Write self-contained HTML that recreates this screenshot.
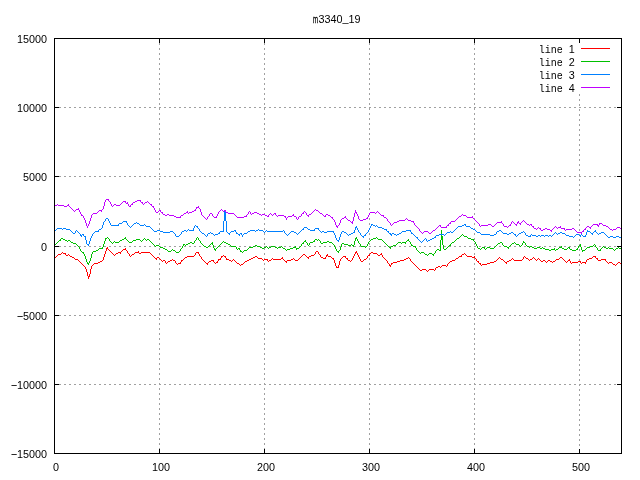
<!DOCTYPE html>
<html><head><meta charset="utf-8"><title>m3340_19</title>
<style>
html,body{margin:0;padding:0;background:#fff}
body{width:640px;height:480px;position:relative;overflow:hidden;font-family:"Liberation Sans",sans-serif}
.t{position:absolute;font-family:"Liberation Sans",sans-serif;font-size:10.8px;line-height:20px;height:20px;color:#000;white-space:pre;will-change:transform}
.mo{font-family:"Liberation Mono",monospace;font-size:10px}
.mm{display:inline-block;width:5.5px;transform-origin:0 50%;transform:scaleX(0.56);-webkit-text-stroke:0.3px #000}
.sh{display:inline-block;transform:translateX(-0.35px)}
.us{display:inline-block;transform:translateY(-1px)}
.mi{display:inline-block;width:6px;text-align:center;transform:translateY(-1px) scaleX(2.0)}
</style></head>
<body>
<svg width="640" height="480" viewBox="0 0 640 480" shape-rendering="crispEdges" style="position:absolute;left:0;top:0">
<g stroke="#a0a0a0" stroke-width="1" stroke-dasharray="2 3"><line x1="159.5" y1="38" x2="159.5" y2="454"/><line x1="264.5" y1="38" x2="264.5" y2="454"/><line x1="369.5" y1="38" x2="369.5" y2="454"/><line x1="474.5" y1="38" x2="474.5" y2="454"/><line x1="579.5" y1="94" x2="579.5" y2="454"/><line x1="54" y1="107.5" x2="622" y2="107.5"/><line x1="54" y1="176.5" x2="622" y2="176.5"/><line x1="54" y1="246.5" x2="622" y2="246.5"/><line x1="54" y1="315.5" x2="622" y2="315.5"/><line x1="54" y1="384.5" x2="622" y2="384.5"/></g>
<path fill="#ff0000" d="M54 257h2v1h-2zM56 256h1v1h-1zM57 255h1v1h-1zM58 254h3v1h-3zM61 253h1v1h-1zM62 252h1v1h-1zM63 253h2v1h-2zM65 253h1v2h-1zM66 255h2v1h-2zM68 254h1v1h-1zM69 255h1v1h-1zM70 256h2v1h-2zM72 257h2v1h-2zM74 258h1v1h-1zM75 259h3v1h-3zM78 260h1v1h-1zM79 261h1v1h-1zM80 262h1v1h-1zM81 263h1v1h-1zM82 264h1v1h-1zM83 265h1v1h-1zM84 266h1v1h-1zM85 267h1v2h-1zM86 269h1v3h-1zM87 272h1v4h-1zM88 276h1v3h-1zM89 274h1v3h-1zM90 269h1v5h-1zM91 266h1v3h-1zM92 265h1v1h-1zM93 264h1v1h-1zM94 263h4v1h-4zM98 262h2v1h-2zM100 261h2v1h-2zM102 260h1v1h-1zM103 257h1v3h-1zM104 254h1v3h-1zM105 251h1v3h-1zM106 248h1v3h-1zM107 247h1v2h-1zM108 249h1v1h-1zM109 250h1v1h-1zM110 251h1v1h-1zM111 252h1v1h-1zM112 253h1v1h-1zM113 254h1v1h-1zM114 255h1v1h-1zM115 254h1v1h-1zM116 253h2v1h-2zM118 252h2v1h-2zM120 252h1v2h-1zM121 251h1v1h-1zM122 250h1v1h-1zM123 249h2v1h-2zM125 248h1v2h-1zM126 250h1v1h-1zM127 251h1v2h-1zM128 253h1v1h-1zM129 254h1v2h-1zM130 256h1v1h-1zM131 255h1v1h-1zM132 254h2v1h-2zM134 253h1v1h-1zM135 252h3v1h-3zM138 251h1v2h-1zM139 253h2v1h-2zM141 252h9v1h-9zM150 253h1v1h-1zM151 254h1v1h-1zM152 255h1v1h-1zM153 256h1v1h-1zM154 257h1v1h-1zM155 258h1v1h-1zM156 258h1v2h-1zM157 257h2v1h-2zM159 258h1v1h-1zM160 259h1v1h-1zM161 260h1v1h-1zM162 261h1v1h-1zM163 260h2v1h-2zM165 261h1v2h-1zM166 263h1v1h-1zM167 262h1v1h-1zM168 261h2v1h-2zM170 260h2v1h-2zM172 259h1v1h-1zM173 260h2v1h-2zM175 261h1v2h-1zM176 263h1v1h-1zM177 264h1v1h-1zM178 263h2v1h-2zM180 262h1v2h-1zM181 260h1v2h-1zM182 260h1v1h-1zM183 259h1v1h-1zM184 258h1v1h-1zM185 257h2v1h-2zM187 256h7v1h-7zM194 255h1v1h-1zM195 253h1v2h-1zM196 252h2v1h-2zM198 252h1v2h-1zM199 254h1v2h-1zM200 256h1v1h-1zM201 257h1v2h-1zM202 259h1v1h-1zM203 260h1v1h-1zM204 261h1v1h-1zM205 262h1v1h-1zM206 263h1v1h-1zM207 263h1v2h-1zM208 262h1v1h-1zM209 261h2v1h-2zM211 260h2v1h-2zM213 260h1v2h-1zM214 262h1v1h-1zM215 263h1v1h-1zM216 262h1v1h-1zM217 261h1v2h-1zM218 259h1v2h-1zM219 259h1v1h-1zM220 258h1v2h-1zM221 256h1v2h-1zM222 256h1v1h-1zM223 255h1v1h-1zM224 256h1v1h-1zM225 256h1v2h-1zM226 258h1v2h-1zM227 259h2v1h-2zM229 260h2v1h-2zM231 261h1v1h-1zM232 260h1v1h-1zM233 259h1v1h-1zM234 260h1v1h-1zM235 261h1v1h-1zM236 262h1v1h-1zM237 263h2v1h-2zM239 264h1v1h-1zM240 265h1v1h-1zM241 264h2v1h-2zM243 263h1v1h-1zM244 262h1v1h-1zM245 261h2v1h-2zM247 260h2v1h-2zM249 259h2v1h-2zM251 258h2v1h-2zM253 257h2v1h-2zM255 256h2v1h-2zM257 257h1v1h-1zM258 258h4v1h-4zM262 259h1v1h-1zM263 260h1v1h-1zM264 259h3v1h-3zM267 259h1v2h-1zM268 261h1v1h-1zM269 260h2v1h-2zM271 259h1v1h-1zM272 258h1v1h-1zM273 259h8v1h-8zM281 258h1v1h-1zM282 257h1v2h-1zM283 259h1v1h-1zM284 260h1v1h-1zM285 261h1v1h-1zM286 261h1v2h-1zM287 260h4v1h-4zM291 259h2v1h-2zM293 258h1v1h-1zM294 259h1v1h-1zM295 260h3v1h-3zM298 259h1v1h-1zM299 258h1v1h-1zM300 257h1v1h-1zM301 256h1v1h-1zM302 255h1v1h-1zM303 254h2v1h-2zM305 255h1v1h-1zM306 256h1v1h-1zM307 257h1v1h-1zM308 257h1v2h-1zM309 256h2v1h-2zM311 255h3v1h-3zM314 254h1v1h-1zM315 252h1v2h-1zM316 251h2v1h-2zM318 252h1v2h-1zM319 254h1v1h-1zM320 255h1v2h-1zM321 257h2v1h-2zM323 258h2v1h-2zM325 257h1v2h-1zM326 255h1v2h-1zM327 254h1v2h-1zM328 256h3v1h-3zM331 257h1v1h-1zM332 258h1v1h-1zM333 258h1v2h-1zM334 260h1v3h-1zM335 263h1v3h-1zM336 266h1v2h-1zM337 267h1v1h-1zM338 265h1v3h-1zM339 261h1v4h-1zM340 259h1v2h-1zM341 258h1v1h-1zM342 257h1v1h-1zM343 256h2v1h-2zM345 256h1v2h-1zM346 258h1v1h-1zM347 258h1v2h-1zM348 260h2v1h-2zM350 261h1v1h-1zM351 260h1v1h-1zM352 258h1v2h-1zM353 256h1v2h-1zM354 254h1v2h-1zM355 252h1v2h-1zM356 251h1v2h-1zM357 253h1v2h-1zM358 255h1v2h-1zM359 257h1v2h-1zM360 259h1v2h-1zM361 261h2v1h-2zM363 260h1v1h-1zM364 259h2v1h-2zM366 258h1v1h-1zM367 256h1v2h-1zM368 255h1v1h-1zM369 254h1v2h-1zM370 253h1v1h-1zM371 252h2v1h-2zM373 253h4v1h-4zM377 254h1v1h-1zM378 255h2v1h-2zM380 254h1v1h-1zM381 253h1v2h-1zM382 255h1v2h-1zM383 257h1v1h-1zM384 258h1v1h-1zM385 259h1v1h-1zM386 260h1v1h-1zM387 261h1v2h-1zM388 263h1v1h-1zM389 264h1v2h-1zM390 265h1v2h-1zM391 263h1v2h-1zM392 263h1v1h-1zM393 262h4v1h-4zM397 261h3v1h-3zM400 260h4v1h-4zM404 259h2v1h-2zM406 258h2v1h-2zM408 257h1v1h-1zM409 258h1v1h-1zM410 259h1v2h-1zM411 261h1v1h-1zM412 262h1v1h-1zM413 263h1v1h-1zM414 264h1v1h-1zM415 265h1v1h-1zM416 266h1v1h-1zM417 267h1v1h-1zM418 268h1v1h-1zM419 269h1v1h-1zM420 270h2v1h-2zM422 269h4v1h-4zM426 270h1v1h-1zM427 271h1v1h-1zM428 270h1v1h-1zM429 269h5v1h-5zM434 270h1v1h-1zM435 268h1v2h-1zM436 267h2v1h-2zM438 266h2v1h-2zM440 267h1v1h-1zM441 266h1v1h-1zM442 265h4v1h-4zM446 266h1v1h-1zM447 264h1v2h-1zM448 263h1v1h-1zM449 262h1v1h-1zM450 261h2v1h-2zM452 260h3v1h-3zM455 259h1v1h-1zM456 258h2v1h-2zM458 257h1v1h-1zM459 256h2v1h-2zM461 255h1v2h-1zM462 254h2v1h-2zM464 253h1v1h-1zM465 254h1v1h-1zM466 255h1v1h-1zM467 256h5v1h-5zM472 257h2v1h-2zM474 256h1v2h-1zM475 258h1v1h-1zM476 259h1v2h-1zM477 261h1v1h-1zM478 261h1v2h-1zM479 263h1v1h-1zM480 263h1v2h-1zM481 265h1v1h-1zM482 264h5v1h-5zM487 263h3v1h-3zM490 262h4v1h-4zM494 261h2v1h-2zM496 260h1v1h-1zM497 259h1v1h-1zM498 258h1v1h-1zM499 257h1v1h-1zM500 258h1v1h-1zM501 259h2v1h-2zM503 260h1v1h-1zM504 261h1v1h-1zM505 262h1v1h-1zM506 262h1v2h-1zM507 261h2v1h-2zM509 260h2v1h-2zM511 259h1v1h-1zM512 258h1v1h-1zM513 259h1v1h-1zM514 260h8v1h-8zM522 259h1v1h-1zM523 257h1v2h-1zM524 256h1v1h-1zM525 257h1v1h-1zM526 258h2v1h-2zM528 259h1v1h-1zM529 260h1v1h-1zM530 259h2v1h-2zM532 258h1v1h-1zM533 257h1v1h-1zM534 258h1v1h-1zM535 259h1v1h-1zM536 260h1v1h-1zM537 259h1v1h-1zM538 258h1v1h-1zM539 259h1v1h-1zM540 260h1v1h-1zM541 261h2v1h-2zM543 260h2v1h-2zM545 261h1v1h-1zM546 262h1v1h-1zM547 261h1v1h-1zM548 260h2v1h-2zM550 261h2v1h-2zM552 262h1v1h-1zM553 261h2v1h-2zM555 260h1v1h-1zM556 259h3v1h-3zM559 258h1v1h-1zM560 257h2v1h-2zM562 258h1v1h-1zM563 259h1v1h-1zM564 260h1v1h-1zM565 261h1v1h-1zM566 262h1v1h-1zM567 261h1v1h-1zM568 260h1v1h-1zM569 259h1v2h-1zM570 261h1v2h-1zM571 263h1v1h-1zM572 262h6v1h-6zM578 261h2v1h-2zM580 261h1v2h-1zM581 263h1v1h-1zM582 262h3v1h-3zM585 262h1v2h-1zM586 260h1v2h-1zM587 259h2v1h-2zM589 258h3v1h-3zM592 257h1v1h-1zM593 256h2v1h-2zM595 256h1v2h-1zM596 258h1v1h-1zM597 258h1v2h-1zM598 260h3v1h-3zM601 259h4v1h-4zM605 259h1v2h-1zM606 261h1v1h-1zM607 262h1v1h-1zM608 263h1v1h-1zM609 262h3v1h-3zM612 263h1v1h-1zM613 264h2v1h-2zM615 265h1v1h-1zM616 264h1v1h-1zM617 263h1v1h-1zM618 262h2v1h-2zM620 263h1v1h-1zM621 264h1v1h-1z"/>
<path fill="#00c000" d="M54 244h2v1h-2zM56 243h1v1h-1zM57 242h1v1h-1zM58 241h1v1h-1zM59 240h1v1h-1zM60 239h1v2h-1zM61 238h2v1h-2zM63 239h2v1h-2zM65 240h2v1h-2zM67 241h1v1h-1zM68 240h2v1h-2zM70 241h1v1h-1zM71 242h2v1h-2zM73 243h3v1h-3zM76 244h1v1h-1zM77 245h1v1h-1zM78 246h1v1h-1zM79 247h1v2h-1zM80 249h1v2h-1zM81 251h1v1h-1zM82 252h1v1h-1zM83 252h1v2h-1zM84 254h1v2h-1zM85 256h1v3h-1zM86 259h1v3h-1zM87 262h1v2h-1zM88 263h1v2h-1zM89 261h1v2h-1zM90 258h1v3h-1zM91 254h1v4h-1zM92 252h1v2h-1zM93 251h3v1h-3zM96 250h2v1h-2zM98 249h1v1h-1zM99 248h3v1h-3zM102 247h1v2h-1zM103 244h1v3h-1zM104 241h1v3h-1zM105 238h1v3h-1zM106 238h1v1h-1zM107 237h1v1h-1zM108 238h1v1h-1zM109 239h1v2h-1zM110 241h1v1h-1zM111 242h1v1h-1zM112 243h1v1h-1zM113 242h1v1h-1zM114 241h1v1h-1zM115 242h4v1h-4zM119 241h1v1h-1zM120 240h2v1h-2zM122 239h2v1h-2zM124 238h1v1h-1zM125 237h1v2h-1zM126 239h1v1h-1zM127 240h1v1h-1zM128 241h1v1h-1zM129 242h3v1h-3zM132 241h1v1h-1zM133 240h3v1h-3zM136 239h4v1h-4zM140 240h1v1h-1zM141 241h1v1h-1zM142 240h1v1h-1zM143 239h1v1h-1zM144 238h1v1h-1zM145 239h1v1h-1zM146 240h1v1h-1zM147 239h2v1h-2zM149 240h1v1h-1zM150 241h1v1h-1zM151 242h1v1h-1zM152 243h1v1h-1zM153 244h1v1h-1zM154 245h1v1h-1zM155 246h1v1h-1zM156 245h3v1h-3zM159 246h1v1h-1zM160 247h3v1h-3zM163 248h2v1h-2zM165 249h2v1h-2zM167 250h1v1h-1zM168 251h3v1h-3zM171 250h1v1h-1zM172 249h1v1h-1zM173 250h2v1h-2zM175 251h1v1h-1zM176 252h3v1h-3zM179 251h1v1h-1zM180 249h1v2h-1zM181 248h1v1h-1zM182 246h1v2h-1zM183 244h1v2h-1zM184 244h1v1h-1zM185 245h1v1h-1zM186 244h2v1h-2zM188 243h2v1h-2zM190 242h2v1h-2zM192 243h2v1h-2zM194 241h1v2h-1zM195 240h1v1h-1zM196 238h1v2h-1zM197 237h1v1h-1zM198 238h1v2h-1zM199 240h1v1h-1zM200 241h1v2h-1zM201 243h1v1h-1zM202 244h1v1h-1zM203 245h1v1h-1zM204 246h2v1h-2zM206 247h2v1h-2zM208 246h1v1h-1zM209 245h1v1h-1zM210 244h1v1h-1zM211 243h1v1h-1zM212 242h1v3h-1zM213 245h1v3h-1zM214 248h1v2h-1zM215 249h1v2h-1zM216 248h1v1h-1zM217 247h1v1h-1zM218 246h1v1h-1zM219 245h1v1h-1zM220 244h1v1h-1zM221 243h1v1h-1zM222 242h1v1h-1zM223 241h1v1h-1zM224 242h2v1h-2zM226 243h2v1h-2zM228 244h2v1h-2zM230 245h1v1h-1zM231 246h5v1h-5zM236 247h1v2h-1zM237 249h1v1h-1zM238 248h1v1h-1zM239 248h1v2h-1zM240 250h1v2h-1zM241 251h1v1h-1zM242 252h1v1h-1zM243 251h1v1h-1zM244 250h3v1h-3zM247 249h1v1h-1zM248 248h1v1h-1zM249 247h4v1h-4zM253 246h2v1h-2zM255 245h2v1h-2zM257 246h3v1h-3zM260 247h2v1h-2zM262 248h2v1h-2zM264 247h2v1h-2zM266 246h1v1h-1zM267 247h1v1h-1zM268 248h1v1h-1zM269 247h2v1h-2zM271 246h4v1h-4zM275 247h2v1h-2zM277 248h1v1h-1zM278 247h3v1h-3zM281 246h1v1h-1zM282 247h1v1h-1zM283 248h2v1h-2zM285 249h1v1h-1zM286 250h1v1h-1zM287 249h3v1h-3zM290 248h3v1h-3zM293 247h2v1h-2zM295 246h1v2h-1zM296 248h1v2h-1zM297 248h2v1h-2zM299 247h1v1h-1zM300 246h1v1h-1zM301 244h1v2h-1zM302 243h1v1h-1zM303 242h1v2h-1zM304 241h1v1h-1zM305 240h1v2h-1zM306 242h1v1h-1zM307 243h1v2h-1zM308 245h1v1h-1zM309 243h1v2h-1zM310 242h3v1h-3zM313 241h1v1h-1zM314 240h1v2h-1zM315 239h2v1h-2zM317 240h1v1h-1zM318 239h1v1h-1zM319 240h1v1h-1zM320 241h1v2h-1zM321 243h2v1h-2zM323 242h4v1h-4zM327 241h2v1h-2zM329 242h3v1h-3zM332 243h1v1h-1zM333 244h1v1h-1zM334 245h1v2h-1zM335 247h1v2h-1zM336 249h1v2h-1zM337 251h1v1h-1zM338 251h1v2h-1zM339 250h1v1h-1zM340 247h1v3h-1zM341 244h1v3h-1zM342 243h2v1h-2zM344 244h4v1h-4zM348 245h3v1h-3zM351 244h1v1h-1zM352 245h1v1h-1zM353 245h1v2h-1zM354 241h1v4h-1zM355 238h1v3h-1zM356 237h1v2h-1zM357 239h1v2h-1zM358 241h1v2h-1zM359 243h1v1h-1zM360 244h1v2h-1zM361 246h4v1h-4zM365 247h1v1h-1zM366 246h1v1h-1zM367 244h1v2h-1zM368 242h1v2h-1zM369 241h1v1h-1zM370 240h1v1h-1zM371 239h2v1h-2zM373 238h3v1h-3zM376 237h1v1h-1zM377 238h1v1h-1zM378 239h4v1h-4zM382 240h1v1h-1zM383 241h1v1h-1zM384 242h1v1h-1zM385 243h1v1h-1zM386 244h1v1h-1zM387 245h1v1h-1zM388 246h1v1h-1zM389 247h1v1h-1zM390 247h1v2h-1zM391 246h2v1h-2zM393 245h3v1h-3zM396 244h1v1h-1zM397 243h1v1h-1zM398 242h3v1h-3zM401 243h1v1h-1zM402 242h3v1h-3zM405 242h1v2h-1zM406 241h1v1h-1zM407 240h1v1h-1zM408 239h1v2h-1zM409 241h1v1h-1zM410 242h1v2h-1zM411 244h1v2h-1zM412 245h1v1h-1zM413 246h2v1h-2zM415 246h1v2h-1zM416 248h1v2h-1zM417 250h1v1h-1zM418 251h1v1h-1zM419 252h1v1h-1zM420 253h1v1h-1zM421 252h3v1h-3zM424 253h1v1h-1zM425 254h2v1h-2zM427 255h1v1h-1zM428 254h1v1h-1zM429 253h3v1h-3zM432 254h1v1h-1zM433 254h1v2h-1zM434 253h1v1h-1zM435 251h1v2h-1zM436 250h1v1h-1zM437 249h2v1h-2zM439 250h1v1h-1zM440 240h1v11h-1zM441 230h1v10h-1zM442 236h1v9h-1zM443 245h1v4h-1zM444 249h2v1h-2zM446 248h1v1h-1zM447 247h1v1h-1zM448 246h1v1h-1zM449 245h1v1h-1zM450 244h1v2h-1zM451 243h1v1h-1zM452 242h2v1h-2zM454 241h1v1h-1zM455 240h1v1h-1zM456 239h1v1h-1zM457 238h2v1h-2zM459 237h1v1h-1zM460 236h1v1h-1zM461 235h1v1h-1zM462 234h1v1h-1zM463 235h1v1h-1zM464 236h3v1h-3zM467 237h1v1h-1zM468 238h3v1h-3zM471 239h2v1h-2zM473 239h1v2h-1zM474 241h1v1h-1zM475 242h1v2h-1zM476 244h1v2h-1zM477 246h1v2h-1zM478 248h2v1h-2zM480 249h1v1h-1zM481 248h1v1h-1zM482 247h2v1h-2zM484 247h1v2h-1zM485 249h1v1h-1zM486 248h1v1h-1zM487 247h3v1h-3zM490 248h4v1h-4zM494 247h1v1h-1zM495 246h1v1h-1zM496 245h1v1h-1zM497 244h1v1h-1zM498 243h2v1h-2zM500 242h2v1h-2zM502 243h1v2h-1zM503 245h1v1h-1zM504 246h3v1h-3zM507 247h1v1h-1zM508 247h1v2h-1zM509 246h1v1h-1zM510 245h1v1h-1zM511 244h1v1h-1zM512 243h2v1h-2zM514 242h1v1h-1zM515 243h1v1h-1zM516 244h3v1h-3zM519 245h1v1h-1zM520 246h1v1h-1zM521 245h1v1h-1zM522 243h1v2h-1zM523 241h1v2h-1zM524 242h1v1h-1zM525 243h1v2h-1zM526 245h1v1h-1zM527 246h2v1h-2zM529 247h1v1h-1zM530 246h2v1h-2zM532 247h2v1h-2zM534 248h3v1h-3zM537 247h3v1h-3zM540 248h2v1h-2zM542 247h1v1h-1zM543 248h2v1h-2zM545 249h4v1h-4zM549 250h2v1h-2zM551 249h3v1h-3zM554 248h1v2h-1zM555 250h1v1h-1zM556 249h2v1h-2zM558 248h1v1h-1zM559 247h2v1h-2zM561 246h1v2h-1zM562 248h2v1h-2zM564 249h3v1h-3zM567 248h1v1h-1zM568 247h1v1h-1zM569 247h1v2h-1zM570 249h2v1h-2zM572 250h4v1h-4zM576 249h1v1h-1zM577 248h1v2h-1zM578 246h1v2h-1zM579 245h1v1h-1zM580 244h1v3h-1zM581 247h1v3h-1zM582 250h1v2h-1zM583 250h2v1h-2zM585 249h1v1h-1zM586 248h1v1h-1zM587 247h3v1h-3zM590 246h3v1h-3zM593 245h1v1h-1zM594 244h1v1h-1zM595 245h1v2h-1zM596 247h1v1h-1zM597 248h1v2h-1zM598 250h2v1h-2zM600 249h1v2h-1zM601 248h1v1h-1zM602 247h1v1h-1zM603 246h1v1h-1zM604 247h2v1h-2zM606 248h2v1h-2zM608 247h1v1h-1zM609 248h4v1h-4zM613 249h1v1h-1zM614 250h1v1h-1zM615 249h1v1h-1zM616 248h2v1h-2zM618 247h1v1h-1zM619 248h2v1h-2zM621 247h1v1h-1z"/>
<path fill="#0080ff" d="M54 230h2v1h-2zM56 229h1v1h-1zM57 228h5v1h-5zM62 229h1v1h-1zM63 228h3v1h-3zM66 229h4v1h-4zM70 230h1v1h-1zM71 231h1v1h-1zM72 232h1v1h-1zM73 233h2v1h-2zM75 231h1v2h-1zM76 230h1v1h-1zM77 231h1v1h-1zM78 232h1v1h-1zM79 233h1v1h-1zM80 234h1v2h-1zM81 235h1v2h-1zM82 234h1v1h-1zM83 234h1v2h-1zM84 236h1v1h-1zM85 236h1v4h-1zM86 240h1v4h-1zM87 244h1v1h-1zM88 244h1v2h-1zM89 241h1v3h-1zM90 238h1v3h-1zM91 236h1v2h-1zM92 234h1v2h-1zM93 233h1v1h-1zM94 232h1v1h-1zM95 231h3v1h-3zM98 230h1v2h-1zM99 229h2v1h-2zM101 228h1v1h-1zM102 225h1v3h-1zM103 222h1v3h-1zM104 221h1v1h-1zM105 219h1v2h-1zM106 218h2v1h-2zM108 219h1v2h-1zM109 221h1v2h-1zM110 223h1v2h-1zM111 225h7v1h-7zM118 224h1v2h-1zM119 223h3v1h-3zM122 222h1v1h-1zM123 221h3v1h-3zM126 221h1v2h-1zM127 223h1v2h-1zM128 225h1v1h-1zM129 226h1v1h-1zM130 227h1v1h-1zM131 226h1v1h-1zM132 225h1v1h-1zM133 224h1v1h-1zM134 223h2v1h-2zM136 222h1v1h-1zM137 223h2v1h-2zM139 224h1v1h-1zM140 225h4v1h-4zM144 224h1v1h-1zM145 225h1v1h-1zM146 226h4v1h-4zM150 227h1v1h-1zM151 228h1v1h-1zM152 229h1v1h-1zM153 230h1v1h-1zM154 231h3v1h-3zM157 230h3v1h-3zM160 231h3v1h-3zM163 232h7v1h-7zM170 231h3v1h-3zM173 232h1v1h-1zM174 233h1v1h-1zM175 234h1v2h-1zM176 236h3v1h-3zM179 235h1v1h-1zM180 234h1v1h-1zM181 232h1v2h-1zM182 231h2v1h-2zM184 230h2v1h-2zM186 231h1v1h-1zM187 230h1v1h-1zM188 229h1v1h-1zM189 230h4v1h-4zM193 228h1v3h-1zM194 226h1v2h-1zM195 225h1v1h-1zM196 226h1v1h-1zM197 226h1v2h-1zM198 228h1v1h-1zM199 229h1v2h-1zM200 231h1v1h-1zM201 232h1v1h-1zM202 233h2v1h-2zM204 234h1v1h-1zM205 235h1v1h-1zM206 236h1v1h-1zM207 234h1v2h-1zM208 233h2v1h-2zM210 232h1v1h-1zM211 233h2v1h-2zM213 234h1v1h-1zM214 235h1v1h-1zM215 234h3v1h-3zM218 233h1v1h-1zM219 232h1v2h-1zM220 231h3v1h-3zM223 221h1v11h-1zM224 210h2v11h-2zM226 221h1v11h-1zM227 232h1v1h-1zM228 233h1v1h-1zM229 233h1v2h-1zM230 232h1v1h-1zM231 231h3v1h-3zM234 230h1v1h-1zM235 230h1v2h-1zM236 232h1v2h-1zM237 233h1v1h-1zM238 234h1v1h-1zM239 234h1v2h-1zM240 233h1v1h-1zM241 233h1v2h-1zM242 235h1v2h-1zM243 234h1v1h-1zM244 233h3v1h-3zM247 232h1v1h-1zM248 231h2v1h-2zM250 230h5v1h-5zM255 231h1v1h-1zM256 230h2v1h-2zM258 229h1v1h-1zM259 230h4v1h-4zM263 231h1v1h-1zM264 232h1v1h-1zM265 231h1v1h-1zM266 230h1v1h-1zM267 231h16v1h-16zM283 230h1v1h-1zM284 231h1v2h-1zM285 233h1v1h-1zM286 234h1v1h-1zM287 235h1v1h-1zM288 234h1v1h-1zM289 233h1v1h-1zM290 232h1v1h-1zM291 231h3v1h-3zM294 232h2v1h-2zM296 233h1v1h-1zM297 234h1v1h-1zM298 233h1v1h-1zM299 232h1v1h-1zM300 231h1v1h-1zM301 230h1v1h-1zM302 229h1v1h-1zM303 228h1v2h-1zM304 227h3v1h-3zM307 228h1v1h-1zM308 229h2v1h-2zM310 230h4v1h-4zM314 229h1v2h-1zM315 228h3v1h-3zM318 228h1v2h-1zM319 230h1v1h-1zM320 231h1v1h-1zM321 232h1v1h-1zM322 231h2v1h-2zM324 232h3v1h-3zM327 231h6v1h-6zM333 231h1v2h-1zM334 233h1v2h-1zM335 235h1v3h-1zM336 238h1v2h-1zM337 240h1v1h-1zM338 240h1v2h-1zM339 237h1v3h-1zM340 234h1v3h-1zM341 232h1v2h-1zM342 231h2v1h-2zM344 232h2v1h-2zM346 233h1v1h-1zM347 234h1v1h-1zM348 235h1v1h-1zM349 234h2v1h-2zM351 233h2v1h-2zM353 232h1v1h-1zM354 230h1v3h-1zM355 227h1v3h-1zM356 226h1v2h-1zM357 228h1v2h-1zM358 230h1v2h-1zM359 232h1v1h-1zM360 233h1v2h-1zM361 235h1v1h-1zM362 236h1v1h-1zM363 236h1v2h-1zM364 235h1v1h-1zM365 234h1v2h-1zM366 233h1v1h-1zM367 232h1v1h-1zM368 230h1v2h-1zM369 228h1v2h-1zM370 226h1v2h-1zM371 224h1v2h-1zM372 224h1v1h-1zM373 225h2v1h-2zM375 226h1v1h-1zM376 225h1v1h-1zM377 226h1v1h-1zM378 227h4v1h-4zM382 228h2v1h-2zM384 229h2v1h-2zM386 229h1v2h-1zM387 231h1v1h-1zM388 231h1v2h-1zM389 233h1v1h-1zM390 233h1v2h-1zM391 234h1v2h-1zM392 233h2v1h-2zM394 234h2v1h-2zM396 235h1v1h-1zM397 234h2v1h-2zM399 233h2v1h-2zM401 232h1v1h-1zM402 231h4v1h-4zM406 230h4v1h-4zM410 230h1v2h-1zM411 232h1v2h-1zM412 233h1v1h-1zM413 234h1v1h-1zM414 235h1v1h-1zM415 236h1v1h-1zM416 237h1v1h-1zM417 237h1v2h-1zM418 239h1v1h-1zM419 240h1v1h-1zM420 241h1v1h-1zM421 242h1v1h-1zM422 241h1v1h-1zM423 240h1v1h-1zM424 239h1v1h-1zM425 238h1v1h-1zM426 239h1v2h-1zM427 241h1v1h-1zM428 240h2v1h-2zM430 239h2v1h-2zM432 238h2v1h-2zM434 237h1v1h-1zM435 236h1v2h-1zM436 235h3v1h-3zM439 234h5v1h-5zM444 235h1v1h-1zM445 234h1v1h-1zM446 233h1v1h-1zM447 232h3v1h-3zM450 231h1v1h-1zM451 232h2v1h-2zM453 231h1v1h-1zM454 230h1v1h-1zM455 229h1v1h-1zM456 228h1v1h-1zM457 227h1v1h-1zM458 226h4v1h-4zM462 225h2v1h-2zM464 224h1v1h-1zM465 224h1v2h-1zM466 226h4v1h-4zM470 227h1v1h-1zM471 228h2v1h-2zM473 229h2v1h-2zM475 230h1v1h-1zM476 231h1v1h-1zM477 232h3v1h-3zM480 233h1v1h-1zM481 234h9v1h-9zM490 235h4v1h-4zM494 234h2v1h-2zM496 232h1v2h-1zM497 231h2v1h-2zM499 230h2v1h-2zM501 231h1v1h-1zM502 232h1v1h-1zM503 233h4v1h-4zM507 234h2v1h-2zM509 233h2v1h-2zM511 232h2v1h-2zM513 233h1v1h-1zM514 234h1v1h-1zM515 234h1v2h-1zM516 236h1v1h-1zM517 235h1v1h-1zM518 234h1v1h-1zM519 233h2v1h-2zM521 232h2v1h-2zM523 231h1v1h-1zM524 232h1v1h-1zM525 233h1v2h-1zM526 235h2v1h-2zM528 236h2v1h-2zM530 235h1v2h-1zM531 234h1v1h-1zM532 235h4v1h-4zM536 236h2v1h-2zM538 235h2v1h-2zM540 236h1v1h-1zM541 235h3v1h-3zM544 236h1v1h-1zM545 235h3v1h-3zM548 236h1v1h-1zM549 235h2v1h-2zM551 236h1v1h-1zM552 235h1v1h-1zM553 234h1v1h-1zM554 233h1v1h-1zM555 232h1v1h-1zM556 233h1v1h-1zM557 234h1v1h-1zM558 233h2v1h-2zM560 232h2v1h-2zM562 233h3v1h-3zM565 234h1v1h-1zM566 235h3v1h-3zM569 236h4v1h-4zM573 237h1v1h-1zM574 236h1v1h-1zM575 235h1v1h-1zM576 234h3v1h-3zM579 235h1v1h-1zM580 235h1v2h-1zM581 234h1v1h-1zM582 235h1v1h-1zM583 236h2v1h-2zM585 235h1v2h-1zM586 232h1v3h-1zM587 230h1v2h-1zM588 231h2v1h-2zM590 232h1v1h-1zM591 233h1v1h-1zM592 233h1v2h-1zM593 232h1v1h-1zM594 231h1v1h-1zM595 230h1v2h-1zM596 232h1v1h-1zM597 233h1v1h-1zM598 234h1v1h-1zM599 233h2v1h-2zM601 232h3v1h-3zM604 233h1v1h-1zM605 234h1v1h-1zM606 235h1v1h-1zM607 236h1v1h-1zM608 237h2v1h-2zM610 236h3v1h-3zM613 237h3v1h-3zM616 236h3v1h-3zM619 237h3v1h-3z"/>
<path fill="#c000ff" d="M54 205h3v1h-3zM57 204h1v1h-1zM58 205h6v1h-6zM64 206h3v1h-3zM67 205h1v1h-1zM68 204h1v2h-1zM69 206h1v1h-1zM70 207h1v1h-1zM71 208h1v1h-1zM72 209h1v1h-1zM73 210h1v1h-1zM74 211h1v1h-1zM75 210h1v1h-1zM76 209h2v1h-2zM78 208h1v2h-1zM79 210h1v2h-1zM80 212h1v2h-1zM81 214h1v2h-1zM82 215h1v1h-1zM83 216h1v2h-1zM84 218h1v2h-1zM85 220h1v3h-1zM86 223h1v3h-1zM87 226h1v2h-1zM88 224h1v2h-1zM89 221h1v3h-1zM90 218h1v3h-1zM91 215h1v3h-1zM92 214h1v1h-1zM93 213h4v1h-4zM97 212h1v1h-1zM98 211h1v1h-1zM99 210h2v1h-2zM101 210h1v2h-1zM102 209h1v1h-1zM103 206h1v3h-1zM104 202h1v4h-1zM105 200h1v2h-1zM106 199h2v1h-2zM108 199h1v2h-1zM109 201h1v1h-1zM110 202h1v2h-1zM111 204h1v2h-1zM112 206h1v1h-1zM113 205h1v1h-1zM114 204h2v1h-2zM116 205h4v1h-4zM120 204h1v1h-1zM121 203h1v1h-1zM122 202h1v1h-1zM123 201h2v1h-2zM125 201h1v2h-1zM126 203h1v1h-1zM127 202h1v2h-1zM128 204h1v2h-1zM129 206h1v1h-1zM130 205h1v2h-1zM131 204h1v1h-1zM132 203h1v2h-1zM133 202h2v1h-2zM135 201h2v1h-2zM137 200h3v1h-3zM140 200h1v2h-1zM141 202h1v1h-1zM142 202h1v2h-1zM143 204h1v1h-1zM144 203h1v1h-1zM145 202h2v1h-2zM147 201h1v1h-1zM148 202h1v1h-1zM149 203h1v1h-1zM150 204h1v1h-1zM151 204h1v2h-1zM152 206h1v1h-1zM153 206h1v2h-1zM154 208h1v2h-1zM155 210h1v2h-1zM156 212h2v1h-2zM158 211h1v1h-1zM159 210h1v1h-1zM160 210h1v2h-1zM161 212h1v1h-1zM162 212h1v2h-1zM163 214h2v1h-2zM165 215h2v1h-2zM167 214h2v1h-2zM169 215h5v1h-5zM174 216h2v1h-2zM176 217h4v1h-4zM180 216h1v2h-1zM181 215h2v1h-2zM183 214h1v1h-1zM184 213h2v1h-2zM186 212h1v1h-1zM187 211h1v2h-1zM188 213h1v1h-1zM189 212h3v1h-3zM192 211h2v1h-2zM194 210h1v1h-1zM195 209h1v2h-1zM196 207h1v2h-1zM197 207h1v1h-1zM198 206h1v2h-1zM199 208h1v1h-1zM200 209h1v3h-1zM201 212h1v3h-1zM202 215h1v1h-1zM203 216h1v1h-1zM204 217h1v1h-1zM205 218h1v1h-1zM206 219h1v1h-1zM207 217h1v2h-1zM208 216h1v1h-1zM209 214h1v2h-1zM210 213h2v1h-2zM212 214h1v2h-1zM213 216h1v1h-1zM214 217h2v1h-2zM216 216h1v2h-1zM217 214h1v2h-1zM218 212h1v2h-1zM219 211h1v1h-1zM220 210h1v1h-1zM221 209h1v1h-1zM222 210h1v1h-1zM223 211h1v1h-1zM224 210h1v1h-1zM225 210h1v2h-1zM226 212h2v1h-2zM228 213h6v1h-6zM234 214h1v1h-1zM235 215h1v1h-1zM236 216h1v1h-1zM237 217h7v1h-7zM244 216h2v1h-2zM246 215h1v2h-1zM247 214h1v1h-1zM248 212h1v2h-1zM249 211h1v1h-1zM250 212h1v2h-1zM251 214h1v1h-1zM252 213h2v1h-2zM254 212h3v1h-3zM257 213h2v1h-2zM259 214h2v1h-2zM261 215h1v1h-1zM262 214h3v1h-3zM265 215h2v1h-2zM267 216h1v1h-1zM268 215h1v2h-1zM269 214h1v1h-1zM270 213h1v1h-1zM271 214h1v1h-1zM272 215h1v1h-1zM273 214h1v1h-1zM274 213h1v1h-1zM275 213h1v2h-1zM276 215h1v1h-1zM277 216h1v1h-1zM278 215h6v1h-6zM284 216h1v1h-1zM285 216h1v2h-1zM286 218h1v2h-1zM287 217h1v1h-1zM288 216h4v1h-4zM292 215h1v1h-1zM293 214h1v2h-1zM294 216h2v1h-2zM296 217h1v2h-1zM297 219h1v1h-1zM298 217h1v2h-1zM299 216h2v1h-2zM301 214h1v2h-1zM302 213h1v1h-1zM303 212h1v2h-1zM304 211h1v1h-1zM305 212h1v1h-1zM306 213h1v2h-1zM307 215h1v1h-1zM308 215h1v2h-1zM309 214h2v1h-2zM311 213h1v1h-1zM312 212h1v1h-1zM313 211h1v1h-1zM314 210h1v1h-1zM315 209h1v1h-1zM316 210h2v1h-2zM318 211h1v1h-1zM319 212h1v1h-1zM320 213h2v1h-2zM322 214h1v1h-1zM323 215h1v1h-1zM324 216h1v1h-1zM325 215h1v2h-1zM326 214h2v1h-2zM328 215h2v1h-2zM330 216h1v1h-1zM331 217h1v1h-1zM332 217h1v2h-1zM333 219h1v1h-1zM334 220h1v2h-1zM335 222h1v3h-1zM336 225h1v2h-1zM337 226h1v2h-1zM338 225h1v1h-1zM339 223h1v2h-1zM340 220h1v3h-1zM341 219h1v1h-1zM342 218h2v1h-2zM344 217h1v1h-1zM345 216h1v2h-1zM346 218h1v1h-1zM347 219h1v1h-1zM348 220h2v1h-2zM350 221h1v1h-1zM351 222h1v1h-1zM352 221h1v3h-1zM353 217h1v4h-1zM354 213h1v4h-1zM355 210h1v3h-1zM356 212h1v2h-1zM357 214h1v2h-1zM358 216h1v3h-1zM359 219h1v1h-1zM360 220h3v1h-3zM363 219h3v1h-3zM366 218h1v1h-1zM367 217h1v2h-1zM368 215h1v2h-1zM369 213h1v2h-1zM370 212h5v1h-5zM375 213h1v1h-1zM376 212h1v1h-1zM377 211h1v1h-1zM378 212h1v1h-1zM379 213h1v1h-1zM380 214h1v1h-1zM381 215h2v1h-2zM383 215h1v2h-1zM384 217h2v1h-2zM386 218h1v1h-1zM387 219h1v2h-1zM388 221h1v1h-1zM389 222h1v1h-1zM390 223h1v2h-1zM391 225h1v1h-1zM392 224h1v1h-1zM393 223h1v1h-1zM394 222h3v1h-3zM397 221h2v1h-2zM399 220h6v1h-6zM405 219h1v1h-1zM406 218h1v1h-1zM407 219h1v1h-1zM408 220h3v1h-3zM411 221h2v1h-2zM413 221h1v2h-1zM414 223h1v2h-1zM415 225h1v1h-1zM416 226h1v1h-1zM417 227h1v1h-1zM418 228h1v1h-1zM419 229h1v2h-1zM420 231h1v1h-1zM421 232h1v1h-1zM422 233h1v1h-1zM423 232h1v1h-1zM424 231h4v1h-4zM428 232h1v1h-1zM429 233h2v1h-2zM431 232h1v1h-1zM432 231h1v1h-1zM433 230h2v1h-2zM435 229h1v1h-1zM436 228h1v1h-1zM437 227h1v1h-1zM438 226h1v1h-1zM439 225h1v1h-1zM440 225h1v2h-1zM441 227h5v1h-5zM446 226h1v2h-1zM447 225h1v1h-1zM448 224h1v2h-1zM449 223h1v1h-1zM450 222h1v2h-1zM451 221h4v1h-4zM455 220h1v1h-1zM456 219h1v1h-1zM457 218h1v1h-1zM458 217h1v1h-1zM459 216h2v1h-2zM461 215h1v1h-1zM462 214h1v1h-1zM463 215h3v1h-3zM466 216h1v1h-1zM467 217h5v1h-5zM472 216h1v2h-1zM473 218h1v1h-1zM474 219h1v1h-1zM475 220h1v1h-1zM476 221h1v1h-1zM477 222h1v1h-1zM478 223h1v1h-1zM479 224h1v2h-1zM480 226h1v1h-1zM481 225h7v1h-7zM488 224h3v1h-3zM491 225h1v1h-1zM492 226h2v1h-2zM494 225h1v1h-1zM495 224h1v1h-1zM496 223h1v1h-1zM497 222h4v1h-4zM501 221h1v2h-1zM502 223h1v1h-1zM503 224h1v2h-1zM504 226h3v1h-3zM507 227h1v1h-1zM508 226h1v1h-1zM509 225h1v1h-1zM510 224h1v2h-1zM511 222h1v2h-1zM512 221h1v1h-1zM513 222h1v1h-1zM514 223h1v1h-1zM515 224h1v1h-1zM516 224h1v2h-1zM517 222h1v2h-1zM518 221h1v2h-1zM519 223h1v1h-1zM520 223h1v2h-1zM521 222h1v1h-1zM522 221h1v1h-1zM523 220h1v1h-1zM524 221h1v1h-1zM525 222h1v1h-1zM526 223h1v1h-1zM527 224h2v1h-2zM529 225h1v1h-1zM530 224h1v1h-1zM531 224h1v2h-1zM532 226h1v1h-1zM533 226h1v2h-1zM534 228h2v1h-2zM536 229h1v1h-1zM537 228h1v1h-1zM538 227h1v1h-1zM539 228h1v1h-1zM540 228h1v2h-1zM541 230h2v1h-2zM543 229h2v1h-2zM545 228h2v1h-2zM547 229h3v1h-3zM550 230h1v1h-1zM551 230h1v2h-1zM552 229h1v1h-1zM553 228h1v1h-1zM554 227h1v1h-1zM555 226h1v1h-1zM556 227h1v1h-1zM557 228h1v1h-1zM558 227h2v1h-2zM560 226h1v2h-1zM561 228h3v1h-3zM564 228h1v2h-1zM565 230h1v1h-1zM566 229h6v1h-6zM572 228h2v1h-2zM574 229h1v1h-1zM575 230h1v1h-1zM576 231h1v1h-1zM577 232h4v1h-4zM581 232h1v2h-1zM582 231h1v1h-1zM583 230h1v2h-1zM584 229h1v1h-1zM585 228h1v2h-1zM586 227h1v1h-1zM587 226h2v1h-2zM589 227h1v1h-1zM590 227h1v2h-1zM591 226h1v1h-1zM592 225h1v1h-1zM593 224h4v1h-4zM597 224h1v2h-1zM598 225h1v2h-1zM599 223h1v2h-1zM600 223h2v1h-2zM602 224h1v1h-1zM603 225h3v1h-3zM606 226h2v1h-2zM608 227h1v1h-1zM609 228h1v1h-1zM610 229h2v1h-2zM612 230h1v1h-1zM613 229h3v1h-3zM616 228h1v1h-1zM617 227h3v1h-3zM620 228h2v1h-2z"/>
<line x1="581" y1="48.5" x2="610" y2="48.5" stroke="#ff0000" stroke-width="1"/>
<line x1="581" y1="61.5" x2="610" y2="61.5" stroke="#00c000" stroke-width="1"/>
<line x1="581" y1="74.5" x2="610" y2="74.5" stroke="#0080ff" stroke-width="1"/>
<line x1="581" y1="87.5" x2="610" y2="87.5" stroke="#c000ff" stroke-width="1"/>
<g stroke="#000" stroke-width="1"><rect x="54.5" y="38.5" width="567" height="415" fill="none"/><line x1="54.5" y1="449" x2="54.5" y2="453"/><line x1="54.5" y1="39" x2="54.5" y2="43"/><line x1="159.5" y1="449" x2="159.5" y2="453"/><line x1="159.5" y1="39" x2="159.5" y2="43"/><line x1="264.5" y1="449" x2="264.5" y2="453"/><line x1="264.5" y1="39" x2="264.5" y2="43"/><line x1="369.5" y1="449" x2="369.5" y2="453"/><line x1="369.5" y1="39" x2="369.5" y2="43"/><line x1="474.5" y1="449" x2="474.5" y2="453"/><line x1="474.5" y1="39" x2="474.5" y2="43"/><line x1="579.5" y1="449" x2="579.5" y2="453"/><line x1="579.5" y1="39" x2="579.5" y2="43"/><line x1="55" y1="38.5" x2="59" y2="38.5"/><line x1="617" y1="38.5" x2="621" y2="38.5"/><line x1="55" y1="107.5" x2="59" y2="107.5"/><line x1="617" y1="107.5" x2="621" y2="107.5"/><line x1="55" y1="176.5" x2="59" y2="176.5"/><line x1="617" y1="176.5" x2="621" y2="176.5"/><line x1="55" y1="246.5" x2="59" y2="246.5"/><line x1="617" y1="246.5" x2="621" y2="246.5"/><line x1="55" y1="315.5" x2="59" y2="315.5"/><line x1="617" y1="315.5" x2="621" y2="315.5"/><line x1="55" y1="384.5" x2="59" y2="384.5"/><line x1="617" y1="384.5" x2="621" y2="384.5"/><line x1="55" y1="453.5" x2="59" y2="453.5"/><line x1="617" y1="453.5" x2="621" y2="453.5"/></g>
</svg>
<div class="t" style="left:313px;top:9px"><span class="mm">m</span>3340<span class="us">_</span>19</div>
<div class="t" style="left:17px;top:29px">15000</div>
<div class="t" style="left:17px;top:98px">10000</div>
<div class="t" style="left:23px;top:167px">5000</div>
<div class="t" style="left:41px;top:237px">0</div>
<div class="t" style="left:17px;top:306px"><span class="mi">-</span>5000</div>
<div class="t" style="left:11px;top:375px"><span class="mi">-</span>10000</div>
<div class="t" style="left:11px;top:444px"><span class="mi">-</span>15000</div>
<div class="t" style="left:53px;top:457px">0</div>
<div class="t" style="left:152px;top:457px">100</div>
<div class="t" style="left:257px;top:457px">200</div>
<div class="t" style="left:362px;top:457px">300</div>
<div class="t" style="left:467px;top:457px">400</div>
<div class="t" style="left:572px;top:457px">500</div>
<div class="t" style="left:539px;top:39px"><span class="sh"><span class="mo">line </span>1</span></div>
<div class="t" style="left:539px;top:52px"><span class="sh"><span class="mo">line </span>2</span></div>
<div class="t" style="left:539px;top:65px"><span class="sh"><span class="mo">line </span>3</span></div>
<div class="t" style="left:539px;top:78px"><span class="sh"><span class="mo">line </span>4</span></div>
</body></html>
